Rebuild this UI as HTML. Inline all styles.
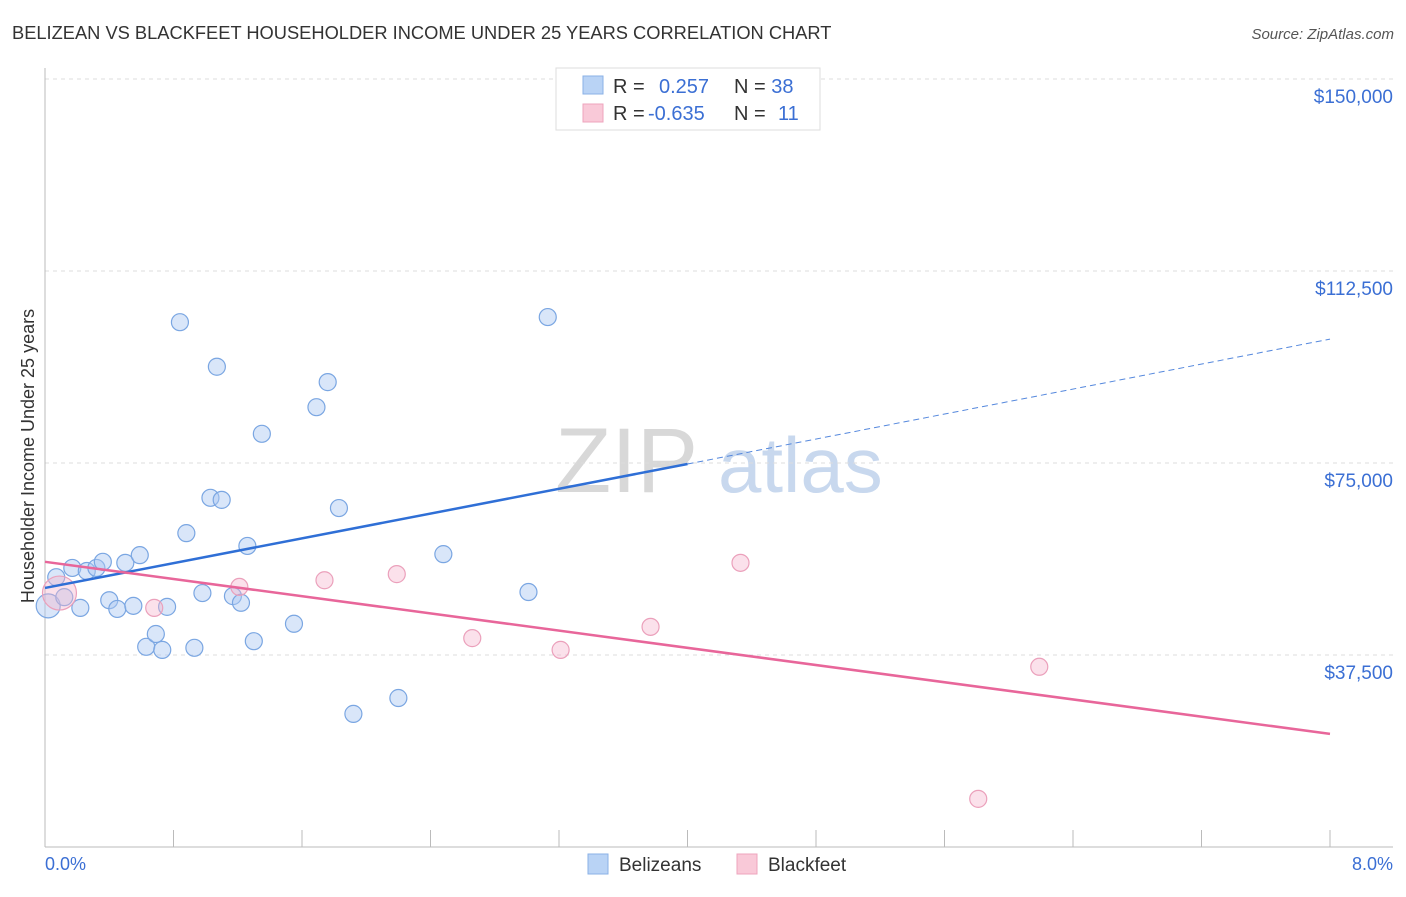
<!DOCTYPE html>
<html><head><meta charset="utf-8"><style>
body{margin:0;background:#fff;font-family:"Liberation Sans",sans-serif}
svg text{font-family:"Liberation Sans",sans-serif}
</style></head><body>
<svg id="c" width="1406" height="892">
<text x="12" y="39" font-size="18.3" fill="#333">BELIZEAN VS BLACKFEET HOUSEHOLDER INCOME UNDER 25 YEARS CORRELATION CHART</text>
<text x="1394" y="39" font-size="15" fill="#555" text-anchor="end" font-style="italic">Source: ZipAtlas.com</text>
<text x="555" y="492" font-size="92" fill="#d8d8d8" font-family="Liberation Serif">ZIP</text>
<text x="718" y="492" font-size="78" fill="#c8d8ee">atlas</text>
<g id="grid"></g><g id="marks"></g>
<text transform="translate(34,456) rotate(-90)" font-size="18" fill="#333" text-anchor="middle">Householder Income Under 25 years</text>
<text x="45" y="870" font-size="18" fill="#3b6fd4">0.0%</text>
<text x="1393" y="870" font-size="18" fill="#3b6fd4" text-anchor="end">8.0%</text>
<g>
<rect x="556" y="68" width="264" height="62" fill="#fff" stroke="#ddd"/>
<rect x="583" y="76" width="20" height="18" fill="#b9d3f5" stroke="#8ab0e6"/>
<rect x="583" y="104" width="20" height="18" fill="#f9c9d8" stroke="#eea4bd"/>
<text x="613" y="93" font-size="20" fill="#333">R = <tspan fill="#3b6fd4" x="659">0.257</tspan><tspan x="734">N = </tspan><tspan fill="#3b6fd4">38</tspan></text>
<text x="613" y="120" font-size="20" fill="#333">R = <tspan fill="#3b6fd4" x="648">-0.635</tspan><tspan x="734">N = </tspan><tspan fill="#3b6fd4" x="778">11</tspan></text>
</g>
<g>
<rect x="588" y="854" width="20" height="20" fill="#b9d3f5" stroke="#8ab0e6"/>
<text x="619" y="871" font-size="19" fill="#333">Belizeans</text>
<rect x="737" y="854" width="20" height="20" fill="#f9c9d8" stroke="#eea4bd"/>
<text x="768" y="871" font-size="19" fill="#333">Blackfeet</text>
</g>
</svg>
<script>
const yTicks=[37500,75000,112500,150000];
const yTickLabels=["$37,500","$75,000","$112,500","$150,000"];
const blueX=[0.02,0.07,0.12,0.17,0.22,0.26,0.32,0.36,0.40,0.45,0.50,0.55,0.59,0.63,0.69,0.73,0.76,0.84,0.88,0.93,0.98,1.03,1.07,1.10,1.17,1.22,1.26,1.30,1.35,1.55,1.69,1.76,1.83,1.92,2.20,2.48,3.01,3.13];
const blueY=[47.1,52.7,48.8,54.5,46.7,53.9,54.5,55.7,48.2,46.5,55.5,47.1,57.0,39.1,41.6,38.5,46.9,102.5,61.3,38.9,49.6,68.2,93.8,67.8,49.0,47.7,58.8,40.2,80.7,43.6,85.9,90.8,66.2,26.0,29.1,57.2,49.8,103.5];
const pinkX=[0.09,0.68,1.21,1.74,2.19,2.66,3.21,3.77,4.33,5.81,6.19];
const pinkY=[49.6,46.7,50.8,52.1,53.3,40.8,38.5,43.0,55.5,9.4,35.2];
const blueTrend=[50.6,74.8,99.2];
const pinkTrend=[55.7,22.1];
const X=p=>45+p/8*1285, Y=v=>847-v/37.5*192;
const NS="http://www.w3.org/2000/svg";
function mk(t,a,parent){const e=document.createElementNS(NS,t);for(const k in a)e.setAttribute(k,a[k]);parent.appendChild(e);return e;}
const g=document.getElementById('grid'),m=document.getElementById('marks');
yTicks.forEach((v,i)=>{
 const l=mk('line',{x1:45,x2:1393,y1:Y(v/1000),y2:Y(v/1000),stroke:'#ddd','stroke-dasharray':'4,4'},g);
 
 
 const t=mk('text',{x:1393,y:Y(v/1000)+24,'font-size':19,fill:'#3b6fd4','text-anchor':'end'},g);
 t.textContent=yTickLabels[i];
 
 
});
mk('line',{x1:45,x2:45,y1:68,y2:847,stroke:'#bbb'},g);
mk('line',{x1:45,x2:1393,y1:847,y2:847,stroke:'#bbb'},g);
for(let i=0;i<=10;i++){const t=mk('line',{x1:X(i*0.8),x2:X(i*0.8),y1:830,y2:847,stroke:'#bbb'},g);
 
 }
blueX.forEach((x,i)=>{const c=mk('circle',{cx:X(x),cy:Y(blueY[i]),r:i==0?12:8.5,fill:'rgba(170,200,242,0.45)',stroke:'#7aa6e2','stroke-width':1.2},m);
 
 });
pinkX.forEach((x,i)=>{const c=mk('circle',{cx:X(x),cy:Y(pinkY[i]),r:i==0?17:8.5,fill:'rgba(245,180,205,0.4)',stroke:'#eba0bb','stroke-width':1.2},m);
 
 });
let l=mk('line',{x1:X(0),y1:Y(blueTrend[0]),x2:X(4),y2:Y(blueTrend[1]),stroke:'#2f6fd6','stroke-width':2.5},m);


l=mk('line',{x1:X(4),y1:Y(blueTrend[1]),x2:X(8),y2:Y(blueTrend[2]),stroke:'#5588dd','stroke-width':1,'stroke-dasharray':'6,4'},m);


l=mk('line',{x1:X(0),y1:Y(pinkTrend[0]),x2:X(8),y2:Y(pinkTrend[1]),stroke:'#e8669a','stroke-width':2.5},m);


</script>
</body></html>
